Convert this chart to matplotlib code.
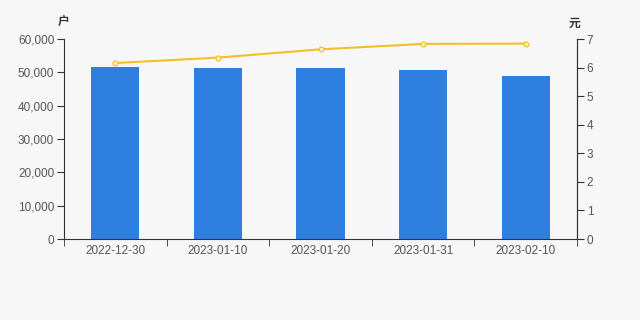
import matplotlib.pyplot as plt
import numpy as np

plt.rcParams['font.family'] = ['Liberation Sans', 'Noto Sans CJK SC', 'DejaVu Sans']

dates = ['2022-12-30', '2023-01-10', '2023-01-20', '2023-01-31', '2023-02-10']
holders = [51500, 51450, 51300, 50800, 48800]
price = [6.16, 6.35, 6.64, 6.83, 6.84]

bg = '#f7f7f7'
axis_col = '#333333'
text_col = '#555555'

fig = plt.figure(figsize=(6.4, 3.2), dpi=100, facecolor=bg)
ax = fig.add_axes([0.1, 0.253, 0.8016, 0.625], facecolor=bg)
x = np.arange(len(dates))
ax.bar(x, holders, width=0.47, color='#2f7fe0', zorder=2)
ax.set_xlim(-0.5, len(dates) - 0.5)
ax.set_ylim(0, 60000)
ax.set_yticks(range(0, 60001, 10000))
ax.set_yticklabels([f'{v:,}' for v in range(0, 60001, 10000)])
ax.set_xticks(x)
ax.set_xticklabels(dates)
ax.set_xticks(np.arange(-0.5, len(dates)), minor=True)
ax.tick_params(axis='x', which='major', length=0, pad=4, labelsize=8.5, labelcolor=text_col)
ax.tick_params(axis='x', which='minor', length=5, color=axis_col, direction='out')
ax.tick_params(axis='y', length=5, color=axis_col, labelsize=8.5, labelcolor=text_col, pad=2)
ax.spines['top'].set_visible(False)
for s in ['left', 'bottom', 'right']:
    ax.spines[s].set_color(axis_col)
    ax.spines[s].set_linewidth(0.8)

ax2 = ax.twinx()
ax2.plot(x, price, color='#f2c025', lw=1.5, marker='o', ms=3.5,
         markerfacecolor='#fbf0c8', markeredgecolor='#f2c025', markeredgewidth=0.8, zorder=3)
ax2.set_ylim(0, 7)
ax2.set_yticks(range(0, 8))
ax2.tick_params(axis='y', length=5, color=axis_col, labelsize=8.5, labelcolor=text_col, pad=2)
for s in ['top', 'left', 'bottom']:
    ax2.spines[s].set_visible(False)
ax2.spines['right'].set_color(axis_col)
ax2.spines['right'].set_linewidth(0.8)

fig.text(0.1, 0.93, '户', ha='center', va='center', fontsize=8.5, fontweight='bold', color='#333333')
fig.text(0.898, 0.925, '元', ha='center', va='center', fontsize=8.5, fontweight='bold', color='#333333')

fig.savefig('out.png', dpi=100, facecolor=bg)
